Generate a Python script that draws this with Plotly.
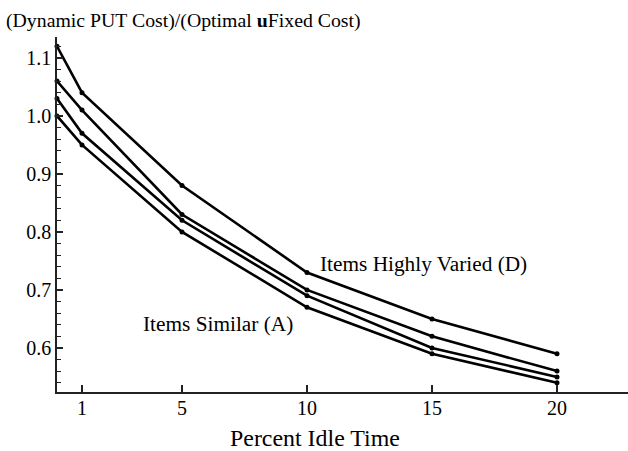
import plotly.graph_objects as go

# Percent idle time and cost ratios for four item-variety cases
idle_pct = [0, 1, 5, 10, 15, 20]
ratio_d = [1.12, 1.04, 0.88, 0.73, 0.65, 0.59]   # items highly varied
ratio_c = [1.06, 1.01, 0.83, 0.70, 0.62, 0.56]
ratio_b = [1.03, 0.97, 0.82, 0.69, 0.60, 0.55]
ratio_a = [1.00, 0.95, 0.80, 0.67, 0.59, 0.54]   # items similar

x_ticks = [1, 5, 10, 15, 20]
y_ticks = [0.6, 0.7, 0.8, 0.9, 1.0, 1.1]

FONT = "Liberation Serif, Times New Roman, serif"

fig = go.Figure()
for series in (ratio_a, ratio_b, ratio_c, ratio_d):
    fig.add_trace(go.Scatter(
        x=idle_pct, y=series, mode="lines+markers",
        line=dict(color="black", width=2.6),
        marker=dict(color="black", size=5),
        showlegend=False, cliponaxis=False,
    ))

fig.add_annotation(x=10.44, y=0.745, text="Items Highly Varied (D)",
                   xanchor="left", yanchor="middle", showarrow=False,
                   font=dict(family=FONT, size=21.3, color="black"))
fig.add_annotation(x=3.36, y=0.641, text="Items Similar (A)",
                   xanchor="left", yanchor="middle", showarrow=False,
                   font=dict(family=FONT, size=21.3, color="black"))
fig.add_annotation(x=-53 / 571, y=1 + 17 / 355, xref="paper", yref="paper",
                   text="(Dynamic PUT Cost)/(Optimal <b>u</b>Fixed Cost)",
                   xanchor="left", yanchor="middle", showarrow=False,
                   font=dict(family=FONT, size=19.8, color="black"))
# x-axis caption, centred under the data span
fig.add_annotation(x=258 / 571, y=-46 / 355, xref="paper", yref="paper",
                   text="Percent Idle Time",
                   xanchor="center", yanchor="middle", showarrow=False,
                   font=dict(family=FONT, size=23.9, color="black"))

fig.update_layout(
    width=628, height=451,
    margin=dict(l=57, r=0, t=37, b=59),
    paper_bgcolor="white", plot_bgcolor="white",
    font=dict(family=FONT, size=20, color="black"),
    xaxis=dict(
        range=[0, 22.84], tickvals=x_ticks, ticks="inside", ticklen=7,
        tickwidth=1.5, tickcolor="#222", showline=True, linecolor="#222",
        linewidth=1.5, showgrid=False, zeroline=False,
        tickfont=dict(size=20), ticklabelstandoff=-3,
    ),
    yaxis=dict(
        range=[0.524, 1.136], tickvals=y_ticks, tickformat=".1f",
        ticks="inside", ticklen=6, tickwidth=1.5, tickcolor="#222",
        showline=True, linecolor="#222", linewidth=1.5,
        showgrid=False, zeroline=False, tickfont=dict(size=20),
        minor=dict(dtick=0.02, tick0=0.5, ticks="inside", ticklen=4,
                   tickwidth=1.2, tickcolor="#222", showgrid=False),
    ),
)

fig.write_html("out.html")
